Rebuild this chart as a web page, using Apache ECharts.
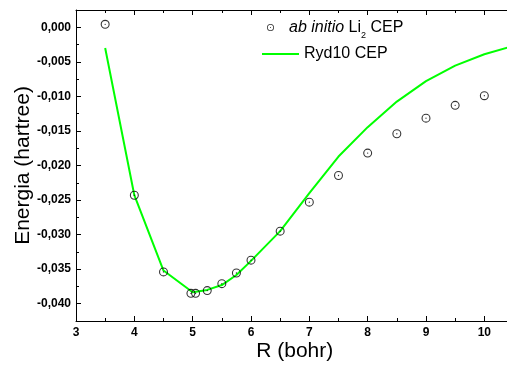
<!DOCTYPE html>
<html>
<head>
<meta charset="utf-8">
<script src="https://cdn.jsdelivr.net/npm/echarts@6/dist/echarts.min.js"></script>
<style>html,body{margin:0;padding:0;background:#fff;}#c{width:507px;height:365px;}</style>
</head>
<body>
<div id="c"></div>
<script>
// ab initio Li2 CEP points (R in bohr, E in hartree)
const abInitioR = [3.5, 4.0, 4.5, 4.97, 5.05, 5.25, 5.5, 5.75, 6.0, 6.5, 7.0, 7.5, 8.0, 8.5, 9.0, 9.5, 10.0];
const abInitioE = [0.00043, -0.0243, -0.0354, -0.0385, -0.0385, -0.0381, -0.0371, -0.03555, -0.0337, -0.0295, -0.0253, -0.02145, -0.0182, -0.0154, -0.01315, -0.0113, -0.0099];
// Ryd10 CEP curve
const rydR = [3.5, 4.0, 4.5, 5.0, 5.25, 5.5, 5.75, 6.0, 6.5, 7.0, 7.5, 8.0, 8.5, 9.0, 9.5, 10.0, 10.5];
const rydE = [-0.0030, -0.0243, -0.0352, -0.03835, -0.0380, -0.0373, -0.03585, -0.0338, -0.0295, -0.0240, -0.0187, -0.01445, -0.01075, -0.0078, -0.00555, -0.0039, -0.0027];
const seriesNames = ['ab initio Li2 CEP', 'Ryd10 CEP'];

const FONT = '"Liberation Sans", Arial, sans-serif';
const ringPath = 'path://M0,10 A10,10 0 1,1 20,10 A10,10 0 1,1 0,10 Z M2.4,10 A7.6,7.6 0 1,0 17.6,10 A7.6,7.6 0 1,0 2.4,10 Z M8.5,10 A1.5,1.5 0 1,1 11.5,10 A1.5,1.5 0 1,1 8.5,10 Z';

const chart = echarts.init(document.getElementById('c'));
const fmt = v => v.toFixed(3).replace('.', ',').replace('-0,000', '0,000');

chart.setOption({
  animation: false,
  backgroundColor: '#fff',
  grid: { left: 76, top: 10, width: 437.5, height: 311, containLabel: false, outerBoundsMode: 'none' },
  legend: [
    {
      data: [{ name: seriesNames[0], icon: ringPath }],
      left: 267, top: 19.5, padding: 0,
      itemWidth: 27, itemHeight: 7,
      formatter: () => '{i|ab initio} Li{s|2} CEP',
      textStyle: {
        fontFamily: FONT, fontSize: 16, color: '#000',
        rich: {
          i: { fontFamily: FONT, fontSize: 16, fontStyle: 'italic', color: '#000' },
          s: { fontFamily: FONT, fontSize: 9, color: '#000', padding: [16, 0, 0, 0] }
        }
      }
    },
    {
      data: [{ name: seriesNames[1], icon: 'rect' }],
      left: 262, top: 46, padding: 0,
      itemWidth: 37, itemHeight: 2,
      textStyle: { fontFamily: FONT, fontSize: 16, color: '#000' }
    }
  ],
  xAxis: [
    {
      type: 'value', min: 3, max: 10.5, interval: 1, position: 'bottom',
      name: 'R (bohr)', nameLocation: 'middle', nameGap: 20, nameMoveOverlap: false,
      nameTextStyle: { fontFamily: FONT, fontSize: 21, color: '#000' },
      axisLine: { onZero: false, lineStyle: { color: '#000', width: 1 } },
      axisTick: { inside: true, length: 5, lineStyle: { color: '#000' } },
      minorTick: { show: true, splitNumber: 2, length: 3, lineStyle: { color: '#000' } },
      axisLabel: { fontFamily: FONT, fontSize: 12, fontWeight: 'bold', color: '#000', margin: 6, showMaxLabel: false },
      splitLine: { show: false }
    },
    {
      type: 'value', min: 3, max: 10.5, interval: 1, position: 'top',
      axisLine: { onZero: false, lineStyle: { color: '#000', width: 1 } },
      axisTick: { inside: true, length: 5, lineStyle: { color: '#000' } },
      minorTick: { show: true, splitNumber: 2, length: 3, lineStyle: { color: '#000' } },
      axisLabel: { show: false },
      splitLine: { show: false }
    }
  ],
  yAxis: {
    type: 'value', min: -0.0425, max: 0.0025, splitNumber: 9,
    name: 'Energia (hartree)', nameLocation: 'middle', nameGap: 42, nameRotate: 90, nameMoveOverlap: false,
    nameTextStyle: { fontFamily: FONT, fontSize: 21, color: '#000' },
    axisLine: { onZero: false, lineStyle: { color: '#000', width: 1 } },
    axisTick: { inside: true, length: 5, lineStyle: { color: '#000' } },
    minorTick: { show: true, splitNumber: 2, length: 3, lineStyle: { color: '#000' } },
    axisLabel: { fontFamily: FONT, fontSize: 12, fontWeight: 'bold', color: '#000', margin: 5,
      showMinLabel: false, showMaxLabel: false, formatter: fmt },
    splitLine: { show: false }
  },
  series: [
    {
      name: seriesNames[0], type: 'scatter', xAxisIndex: 0,
      symbol: ringPath, symbolSize: 9,
      itemStyle: { color: '#000' },
      data: abInitioR.map((r, i) => [r, abInitioE[i]]),
      z: 3
    },
    {
      name: seriesNames[1], type: 'line', xAxisIndex: 0,
      symbol: 'none', showSymbol: false,
      lineStyle: { color: '#00ff00', width: 2 },
      itemStyle: { color: '#00ff00' },
      data: rydR.map((r, i) => [r, rydE[i]]),
      z: 2
    }
  ]
});
</script>
</body>
</html>
